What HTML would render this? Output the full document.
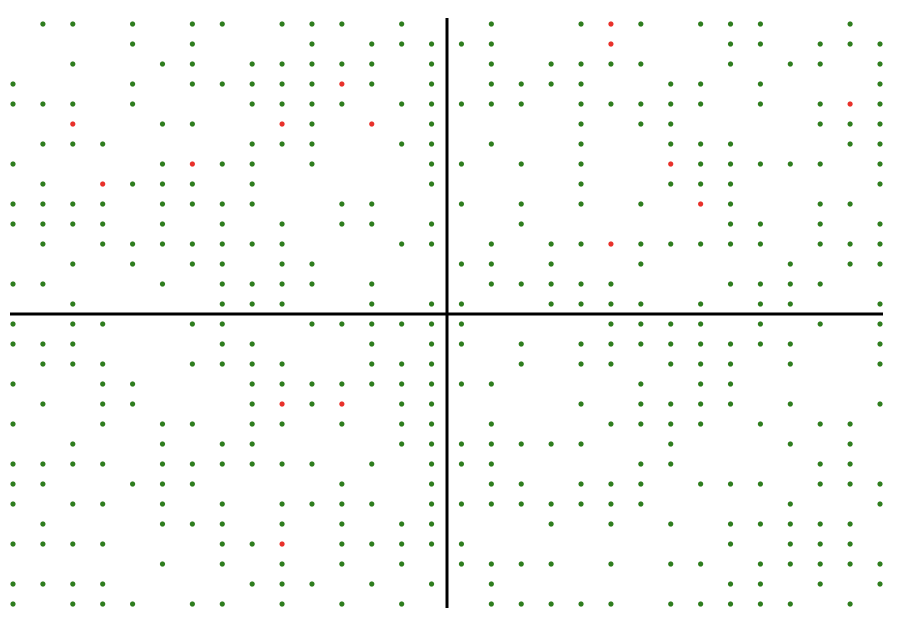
<!DOCTYPE html>
<html><head><meta charset="utf-8"><style>
html,body{margin:0;padding:0;background:#fff;width:898px;height:622px;overflow:hidden}
svg{display:block}
</style></head><body>
<svg id="chart" width="898" height="622" xmlns="http://www.w3.org/2000/svg">
<g id="dots"></g>
<line x1="447" y1="18" x2="447" y2="608" stroke="#000" stroke-width="3"/>
<line x1="10" y1="314" x2="883" y2="314" stroke="#000" stroke-width="3"/>
</svg>
<script>
const leftRows = [
".gg.g.gg.ggg.g.","....g.g...g.ggg","..g..gg.ggggg.g","g...g.gggggrg.g","ggg.g...gggg.gg",
"..r..gg..rg.r.g",".ggg....ggg..gg","g....grgg.g...g",".g.rggg.g.....g","gggg.gggg..gg..",
"gggg.g.g.g.gg.g",".g.ggggggg...gg","..g.g.gg.gg....","gg...g.gggg.g..","..g....ggg..g.g",
"g.gg..gg..ggggg","ggg....gg...g.g",".ggg..gggg..ggg","g..gg...ggggggg",".g.gg...grgr.gg",
"g..g.gg.gg.g.gg","..g..g.gg....gg","gggg.gggggg.g.g","gg..ggg....g..g","g.gg.g.g.gggg.g",
".g...ggg.g.g.gg","gggg...ggr.gggg",".....g.g.g.g.g.","gggg....ggg.g.g","g.ggg.gg.g.g.g."];
const rightRows = [
".g..grg.ggg..g.","gg...r...gg.ggg",".g.gggg..g.gg.g",".gggg..gg.g...g","ggg.ggggg.g.grg",
"....g.gg....ggg",".g..g..ggg...gg","g.g.g..rggggg.g","....g..ggg....g","g.g.g.g.rg..gg.",
"..g......gg.g.g",".g.ggrggggg.ggg","gg.g..g....g.gg",".ggggg...gggg..","g..gggg.g.gg..g",
"g....gggg.g.g.g","g.g.gggggggg..g","..g.gg.ggg.g..g","gg....g.gg.....","....g.gggg.g..g",
".g...gggg.g.gg.","ggggg..g...g.g.","gg....gg....gg.",".gg.ggg.ggg.ggg","ggggggg....g..g",
"...g.g.g.ggggg.","g........g.ggg.","gggg.g.gg.ggggg",".g.......gg.g.g",".ggggg.ggggg.g."];
const colors = {g:"#2e7d1e", r:"#e8302a"};
function xPos(c){return 13 + c*(867/29);}
function yPos(r){return 24 + r*20;}
const NS="http://www.w3.org/2000/svg";
const g=document.getElementById('dots');
for(let r=0;r<30;r++){
  const row=leftRows[r]+rightRows[r];
  for(let c=0;c<row.length;c++){
    const ch=row[c];
    if(ch==='.')continue;
    const el=document.createElementNS(NS,'circle');
    el.setAttribute('cx',xPos(c));
    el.setAttribute('cy',yPos(r));
    el.setAttribute('r',2.6);
    el.setAttribute('fill',colors[ch]);
    
    
    g.appendChild(el);
  }
}
</script>
</body></html>
